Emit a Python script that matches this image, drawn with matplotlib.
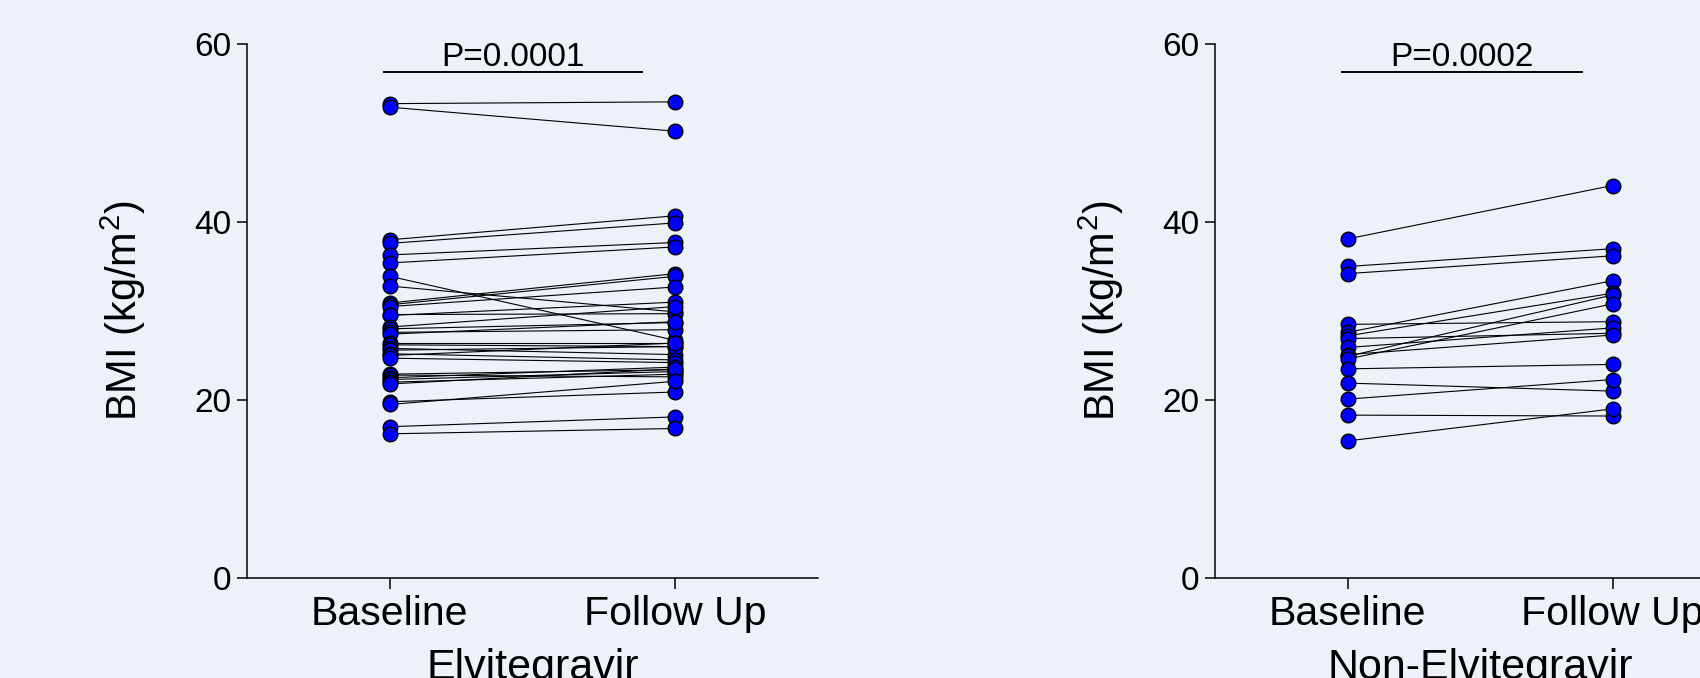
import numpy as np
import matplotlib
matplotlib.use("Agg")
from matplotlib import pyplot as plt

# BMI values (kg/m^2)
elv_baseline = [53.3, 52.9, 38.0, 37.6, 36.3, 35.4, 33.9, 32.8, 30.9, 30.7, 30.5, 29.6,
                29.5, 28.2, 28.0, 27.6, 27.4, 26.4, 26.2, 25.8, 25.6, 25.2, 25.0, 24.7,
                22.9, 22.8, 22.5, 22.3, 22.0, 21.8, 19.8, 19.5, 17.0, 16.2]
elv_followup = [53.5, 50.2, 40.7, 39.9, 37.7, 37.2, 26.7, 29.9, 34.2, 33.9, 32.7, 29.7,
                31.0, 30.5, 28.7, 27.9, 28.8, 26.4, 26.0, 25.1, 26.0, 24.5, 26.4, 24.2,
                23.4, 22.6, 23.7, 23.2, 22.9, 23.5, 20.9, 22.1, 18.1, 16.8]

nonelv_baseline = [38.1, 35.0, 34.2, 28.5, 27.6, 27.2, 26.9, 25.9, 25.1, 24.9, 24.6,
                   23.5, 21.9, 20.1, 18.3, 15.4]
nonelv_followup = [44.1, 37.0, 36.2, 28.8, 33.4, 32.0, 27.5, 28.1, 27.3, 31.8, 30.8,
                   24.0, 21.0, 22.3, 18.2, 19.0]

time_labels = ["Baseline", "Follow Up"]
group_names = ["Elvitegravir", "Non-Elvitegravir"]
p_values = ["P=0.0001", "P=0.0002"]
y_ticks = [0, 20, 40, 60]

bg = "#edf2f9"
plt.rcParams["font.family"] = ["Liberation Sans", "DejaVu Sans"]
plt.rcParams["mathtext.default"] = "regular"
plt.rcParams["mathtext.fontset"] = "custom"
plt.rcParams["mathtext.rm"] = "Liberation Sans"


def paired_panel(ax, before, after, group, pval, ylabel_x):
    ax.set_facecolor(bg)
    for b, a in zip(before, after):
        ax.plot([0, 1], [b, a], color="black", lw=0.8, zorder=2)
    ax.plot(np.zeros(len(before)), before, "o", ms=10.5, mfc="#0000ff", mec="black",
            mew=1.0, ls="none", zorder=3)
    ax.plot(np.ones(len(after)), after, "o", ms=10.5, mfc="#0000ff", mec="black",
            mew=1.0, ls="none", zorder=3)

    ax.set_xlim(-0.5, 1.5)
    ax.set_ylim(0, 60)
    ax.set_yticks(y_ticks)
    ax.set_xticks([0, 1])
    ax.set_xticklabels(time_labels, fontsize=29.5)
    ax.tick_params(axis="y", labelsize=24, length=7.5, width=1.1, pad=3.5, direction="out")
    ax.tick_params(axis="x", length=8, width=1.1, pad=4, direction="out")
    for s in ["top", "right"]:
        ax.spines[s].set_visible(False)
    for s in ["left", "bottom"]:
        ax.spines[s].set_linewidth(1.1)

    ax.set_xlabel(group, fontsize=31, labelpad=11)
    ax.set_ylabel("BMI (kg/m$^2$)", fontsize=30)
    ax.yaxis.set_label_coords(ylabel_x, 0.5)

    # significance bar
    ax.plot([-0.02, 0.885], [56.8, 56.8], color="black", lw=1.4, clip_on=False)
    ax.text(0.43, 56.75, pval, ha="center", va="bottom", fontsize=24)


fig = plt.figure(figsize=(17, 6.78), dpi=100)
fig.patch.set_facecolor(bg)

ax1 = fig.add_axes([0.1453, 0.1475, 0.3359, 0.7876])
ax2 = fig.add_axes([0.7147, 0.1475, 0.3118, 0.7876])

paired_panel(ax1, elv_baseline, elv_followup, group_names[0], p_values[0], -0.174)
paired_panel(ax2, nonelv_baseline, nonelv_followup, group_names[1], p_values[1], -0.168)

fig.savefig("out.png", dpi=100, facecolor=bg)
